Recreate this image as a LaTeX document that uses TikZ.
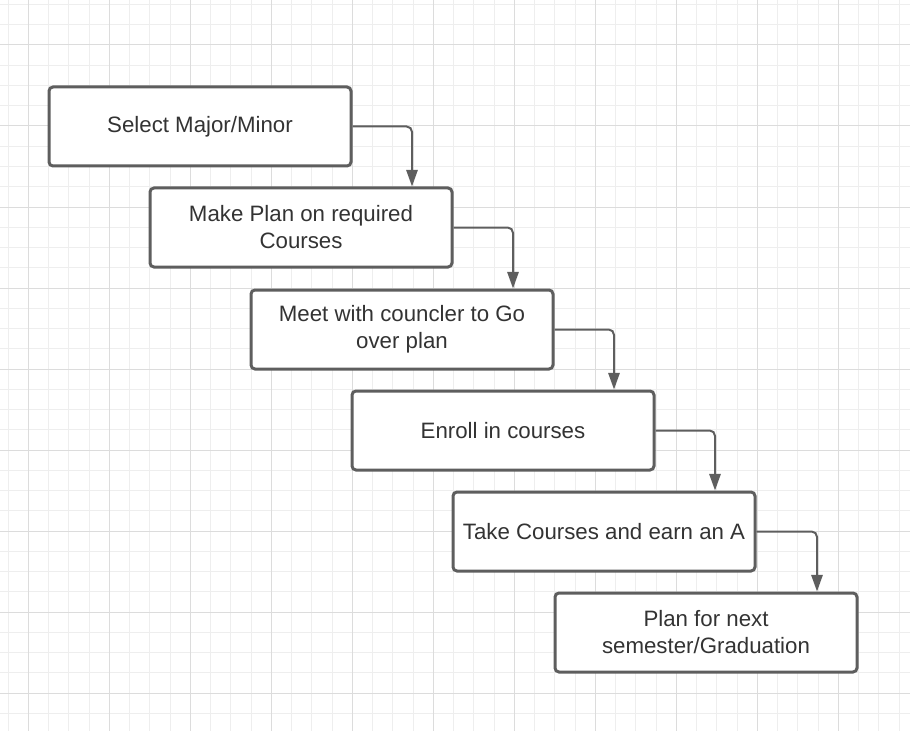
\documentclass[tikz,border=0pt]{standalone}
\usepackage{fontspec}
\setmainfont{Liberation Sans}
\usetikzlibrary{arrows.meta,calc}
\definecolor{boxline}{HTML}{5E5E5E}
\definecolor{textgrey}{HTML}{333333}
\definecolor{gridminor}{HTML}{EEEEEE}
\definecolor{gridmajor}{HTML}{DCDCDC}
\tikzset{
 stage/.style={draw=boxline,line width=2.25pt,rounded corners=3pt,fill=white,
   minimum width=226.5pt,minimum height=59.25pt,inner sep=0pt,align=center,
   text=textgrey,font=\fontsize{16.7}{20.3}\selectfont},
 flow/.style={draw=boxline,line width=1.5pt,rounded corners=4pt,
   -{Triangle[length=12.5pt,width=8.5pt]}}
}
\begin{document}
\begin{tikzpicture}[x=0.75pt,y=-0.75pt]
 \useasboundingbox (0,0) rectangle (910,731);
 \clip (0,0) rectangle (910,731);
 % grid
 \foreach \gx in {8.1,28.35,...,910} \draw[gridminor,line width=0.75pt] (\gx,0)--(\gx,731);
 \foreach \gy in {4.5,24.75,...,731} \draw[gridminor,line width=0.75pt] (0,\gy)--(910,\gy);
 \foreach \gx in {28.35,109.35,...,910} \draw[gridmajor,line width=0.75pt] (\gx,0)--(\gx,731);
 \foreach \gy in {45,126,...,731} \draw[gridmajor,line width=0.75pt] (0,\gy)--(910,\gy);
 % stages
 \node[stage] (select) at (200,126.5) {Select Major/Minor};
 \node[stage] (plan) at (301,227.5) {Make Plan on required\\Courses};
 \node[stage] (meet) at (402,329.5) {Meet with councler to Go\\over plan};
 \node[stage] (enroll) at (503,430.5) {Enroll in courses};
 \node[stage] (take) at (604,531.5) {Take Courses and earn an A};
 \node[stage] (next) at (706,632.5) {Plan for next\\semester/Graduation};
 % arrows
 \draw[flow] (select.east) -| ($(plan.north)+(111,0)$);
 \draw[flow] (plan.east) -| ($(meet.north)+(111,0)$);
 \draw[flow] (meet.east) -| ($(enroll.north)+(111,0)$);
 \draw[flow] (enroll.east) -| ($(take.north)+(111,0)$);
 \draw[flow] (take.east) -| ($(next.north)+(111,0)$);
\end{tikzpicture}
\end{document}
